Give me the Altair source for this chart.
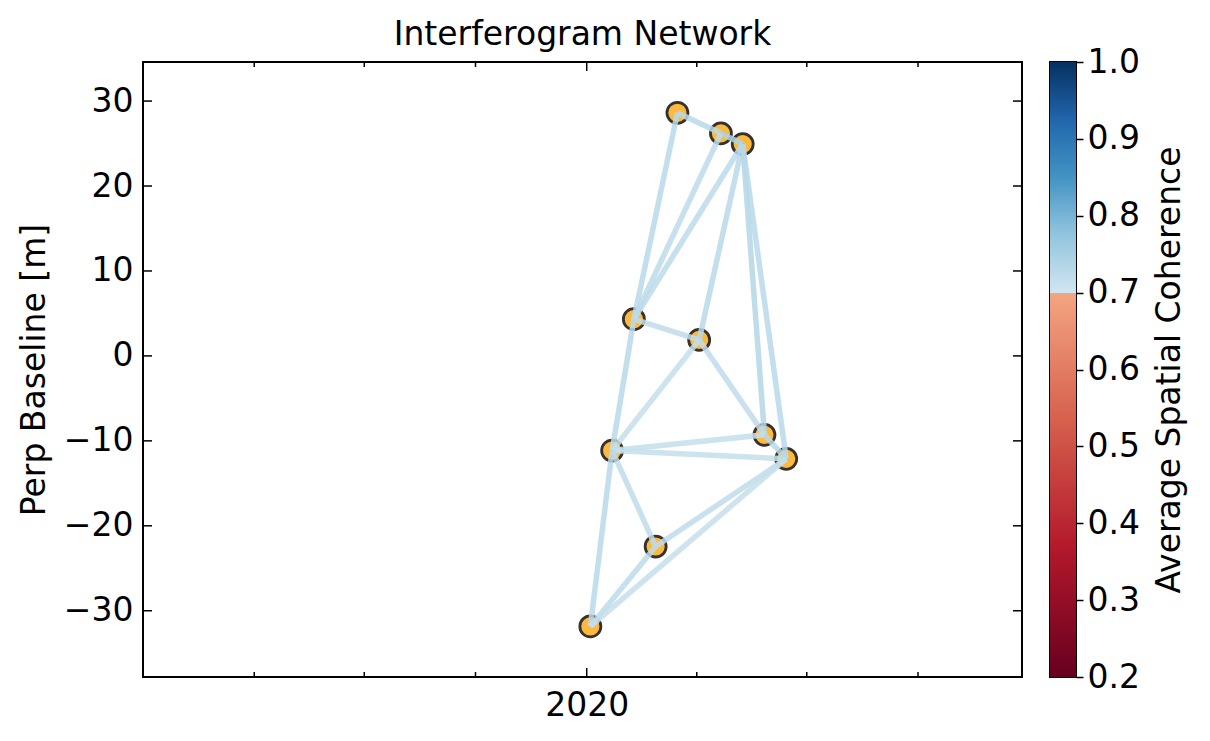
import altair as alt
import pandas as pd

# ---- data ----
dates = ["2020-01-04", "2020-01-22", "2020-02-09", "2020-02-27", "2020-03-16",
         "2020-04-03", "2020-04-21", "2020-05-09", "2020-05-27", "2020-06-14"]
bperp = [-31.85, -11.14, 4.32, -22.44, 28.62, 1.88, 26.2, 24.94, -9.29, -12.12]

edge_ref = [4, 6, 2, 2, 2, 5, 7, 7, 2, 1, 1, 5, 1, 1, 8, 1, 0, 0, 3, 0]
edge_sec = [6, 7, 4, 6, 7, 7, 8, 9, 5, 2, 5, 8, 8, 9, 9, 3, 1, 3, 9, 9]
coherence = [0.73, 0.745, 0.73, 0.725, 0.725, 0.73, 0.735, 0.73, 0.72, 0.73,
             0.715, 0.72, 0.715, 0.715, 0.73, 0.72, 0.73, 0.725, 0.72, 0.715]

y_ticks = [-30, -20, -10, 0, 10, 20, 30]
x_major = ["2020-01-01"]
x_minor = ["2019-04-01", "2019-07-01", "2019-10-01", "2020-04-01", "2020-07-01", "2020-10-01"]
cbar_ticks = [0.2, 0.3, 0.4, 0.5, 0.6, 0.7, 0.8, 0.9, 1.0]

cmap_domain = [0.2, 0.36667, 0.53333, 0.7, 0.70001, 0.775, 0.85, 0.925, 1.0]
cmap_colors = ["#67001f", "#b2182b", "#d6604d", "#f4a582", "#d1e5f0",
               "#92c5de", "#4393c3", "#2166ac", "#053061"]

W, H = 879, 615
FONT = "DejaVu Sans"
FS = 33

pts = pd.DataFrame({"date": dates, "bperp": bperp})
edges = pd.DataFrame({
    "d1": [dates[i] for i in edge_ref],
    "d2": [dates[i] for i in edge_sec],
    "b1": [bperp[i] for i in edge_ref],
    "b2": [bperp[i] for i in edge_sec],
    "coh": coherence,
})

xscale = alt.Scale(type="utc", domain=[alt.DateTime(year=2018, month=12, date=30, utc=True),
                                       alt.DateTime(year=2020, month=12, date=26, utc=True)])
yscale = alt.Scale(domain=[-37.8, 34.6], nice=False, zero=False)

xaxis = alt.Axis(values=[alt.DateTime(year=2020, month=1, date=1, utc=True)],
                 format="%Y", formatType="utc", ticks=False, domain=False, grid=False,
                 title=None, labelPadding=12, labelFont=FONT, labelFontSize=FS,
                 labelColor="black")
yaxis = alt.Axis(values=y_ticks, ticks=False, domain=False, grid=False,
                 title="Perp Baseline [m]", labelPadding=10, titlePadding=12,
                 labelFont=FONT, labelFontSize=FS, titleFont=FONT, titleFontSize=FS,
                 titleFontWeight="normal", labelColor="black", titleColor="black")

points = alt.Chart(pts).mark_circle(
    size=440, color="#fdb83e", opacity=1, stroke="#35312d", strokeWidth=2.8
).encode(
    x=alt.X("date:T", scale=xscale, axis=xaxis, title=None),
    y=alt.Y("bperp:Q", scale=yscale, axis=yaxis, title="Perp Baseline [m]"),
)

lines = alt.Chart(edges).mark_rule(strokeWidth=5.5, opacity=0.85).encode(
    x=alt.X("d1:T", scale=xscale, axis=xaxis, title=None),
    x2="d2:T",
    y=alt.Y("b1:Q", scale=yscale, axis=yaxis, title="Perp Baseline [m]"),
    y2="b2:Q",
    color=alt.Color("coh:Q", scale=alt.Scale(domain=cmap_domain, range=cmap_colors,
                                             interpolate="rgb"), legend=None),
)

yt = pd.DataFrame({"v": y_ticks})
ytick_l = alt.Chart(yt).mark_rule(color="black", strokeWidth=1.5).encode(
    y=alt.Y("v:Q", scale=yscale, axis=yaxis, title="Perp Baseline [m]"),
    x=alt.value(0), x2=alt.value(9))
ytick_r = alt.Chart(yt).mark_rule(color="black", strokeWidth=1.5).encode(
    y=alt.Y("v:Q", scale=yscale, axis=yaxis, title="Perp Baseline [m]"),
    x=alt.value(W - 9), x2=alt.value(W))

xmaj = pd.DataFrame({"d": x_major})
xmin = pd.DataFrame({"d": x_minor})
xt_layers = []
for df, ln in [(xmaj, 9), (xmin, 5)]:
    xt_layers.append(alt.Chart(df).mark_rule(color="black", strokeWidth=1.5).encode(
        x=alt.X("d:T", scale=xscale, axis=xaxis, title=None),
        y=alt.value(H - ln), y2=alt.value(H)))
    xt_layers.append(alt.Chart(df).mark_rule(color="black", strokeWidth=1.5).encode(
        x=alt.X("d:T", scale=xscale, axis=xaxis, title=None),
        y=alt.value(0), y2=alt.value(ln)))

main = alt.layer(points, lines, ytick_l, ytick_r, *xt_layers).properties(
    width=W, height=H,
    title=alt.Title("Interferogram Network", fontSize=FS, font=FONT, fontWeight="normal",
                    offset=9, color="black"),
)

grad = alt.Gradient(
    gradient="linear", x1=0, x2=0, y1=1, y2=0,
    stops=[alt.GradientStop(offset=(d - 0.2) / 0.8, color=c)
           for d, c in zip(cmap_domain, cmap_colors)],
)
cb = pd.DataFrame({"lo": [cbar_ticks[0]], "hi": [cbar_ticks[-1]]})
colorbar = alt.Chart(cb).mark_rect(color=grad).encode(
    y=alt.Y("lo:Q", scale=alt.Scale(domain=[0.2, 1.0], nice=False, zero=False),
            axis=alt.Axis(orient="right", values=cbar_ticks, format=".1f", grid=False,
                          domain=False, tickSize=7, tickWidth=1.5, tickColor="black",
                          labelPadding=4, title="Average Spatial Coherence",
                          titleAngle=270, titlePadding=47,
                          labelFont=FONT, labelFontSize=FS, titleFont=FONT,
                          titleFontSize=FS, titleFontWeight="normal",
                          labelColor="black", titleColor="black")),
    y2="hi:Q",
).properties(width=26, height=H)

chart = alt.hconcat(main, colorbar, spacing=25).properties(
    background="white",
    padding={"left": 9, "top": 10, "right": 5, "bottom": 5},
).configure_view(
    stroke="black", strokeWidth=2
)

chart.save("out.html", embed_options={"renderer": "svg", "actions": False})
